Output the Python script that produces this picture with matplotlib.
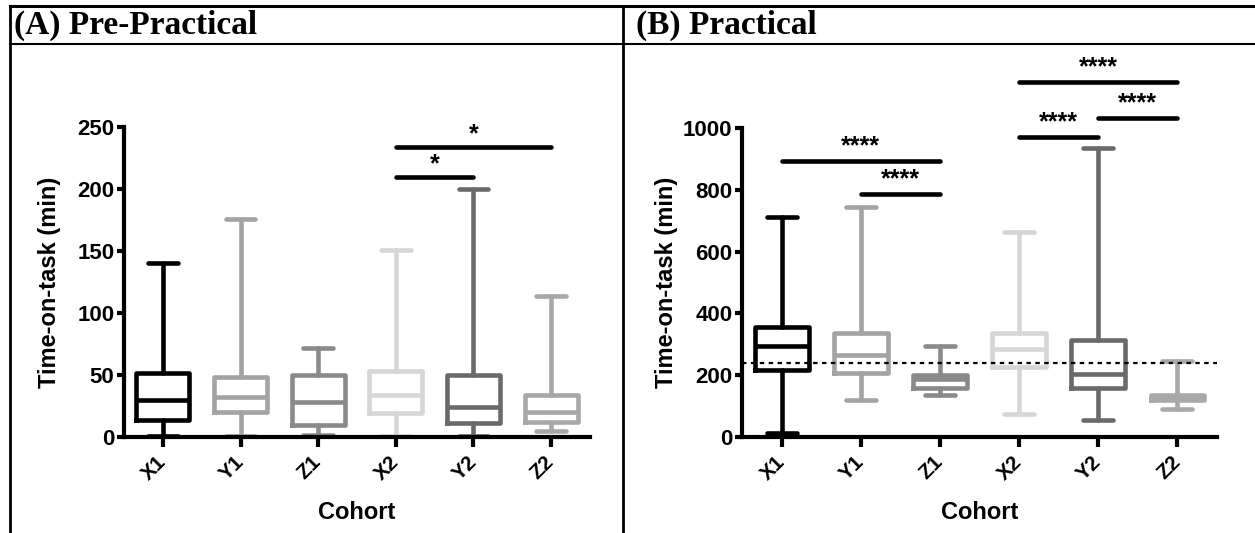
import matplotlib
matplotlib.use("Agg")
import matplotlib.pyplot as plt
from matplotlib.lines import Line2D

plt.rcParams['font.family'] = ['Liberation Sans', 'DejaVu Sans']
plt.rcParams['font.weight'] = 'bold'

# cohorts and box colours
cohorts = ['X1', 'Y1', 'Z1', 'X2', 'Y2', 'Z2']
colors = ['#000000', '#a3a3a3', '#8a8a8a', '#d6d6d6', '#6a6a6a', '#a8a8a8']

# (A) Pre-Practical: min, q1, median, q3, max (min)
a_min = [0.5, 1, 2, 0.5, 0.5, 4.5]
a_q1 = [14, 20, 10, 19, 11, 12]
a_med = [30, 32, 28, 34, 24, 20]
a_q3 = [52, 48, 50, 53, 50, 34]
a_max = [140, 176, 72, 151, 200, 114]
a_sig = [(4, 5, 210, '*'), (4, 6, 234, '*')]

# (B) Practical
b_min = [14, 121, 137, 76, 54, 90]
b_q1 = [216, 208, 160, 227, 157, 119]
b_med = [294, 265, 187, 286, 203, 130]
b_q3 = [355, 335, 200, 335, 314, 137]
b_max = [711, 744, 296, 662, 934, 246]
b_sig = [(1, 3, 894, '****'), (2, 3, 786, '****'), (4, 5, 971, '****'),
         (5, 6, 1032, '****'), (4, 6, 1150, '****')]
b_ref = 240

W, H = 1255, 533
fig = plt.figure(figsize=(W / 100, H / 100), dpi=100)


def px_axes(left, right, top, bottom):
    return fig.add_axes([left / W, (H - bottom) / H, (right - left) / W, (bottom - top) / H])


def draw_panel(ax, mins, q1, med, q3, maxs, sig, ymax, ystep, star_off):
    stats = []
    for i in range(len(cohorts)):
        stats.append(dict(whislo=mins[i], q1=q1[i], med=med[i], q3=q3[i], whishi=maxs[i], label=cohorts[i]))
    bp = ax.bxp(stats, positions=range(1, 7), widths=0.68, capwidths=0.38,
                showfliers=False, patch_artist=False, manage_ticks=False)
    lw = 3.3
    for i, c in enumerate(colors):
        for art in [bp['boxes'][i], bp['medians'][i]]:
            art.set_color(c)
            art.set_linewidth(lw)
        for art in bp['whiskers'][2 * i:2 * i + 2] + bp['caps'][2 * i:2 * i + 2]:
            art.set_color(c)
            art.set_linewidth(lw)
            art.set_solid_capstyle('round')
        bp['boxes'][i].set_solid_joinstyle('round')

    ax.set_xlim(0.5, 6.5)
    ax.set_ylim(0, ymax)
    ax.set_xticks(range(1, 7))
    ax.set_xticklabels(cohorts, rotation=45, ha='right', va='center', rotation_mode='anchor')
    ax.set_yticks(range(0, ymax + 1, ystep))
    for sp in ['top', 'right']:
        ax.spines[sp].set_visible(False)
    for sp in ['left', 'bottom']:
        ax.spines[sp].set_linewidth(3)
    ax.tick_params(axis='x', length=7, width=3, labelsize=15, pad=9)
    ax.tick_params(axis='y', length=5, width=3, labelsize=16, pad=2)
    for lab in ax.get_yticklabels() + ax.get_xticklabels():
        lab.set_fontweight('bold')
    ax.set_xlabel('Cohort', fontsize=17, fontweight='bold', labelpad=12)

    for x1, x2, y, s in sig:
        ax.plot([x1, x2], [y, y], color='black', lw=3.3, solid_capstyle='round', clip_on=False)
        ax.text((x1 + x2) / 2, y + star_off, s, ha='center', va='center',
                fontsize=18, fontweight='bold', clip_on=False)


axA = px_axes(124, 590, 127, 437)
draw_panel(axA, a_min, a_q1, a_med, a_q3, a_max, a_sig, 250, 50, 10)

axB = px_axes(742, 1217, 128, 437)
axB.axhline(b_ref, color='black', lw=1.6, linestyle=(0, (2, 2)), zorder=3)
draw_panel(axB, b_min, b_q1, b_med, b_q3, b_max, b_sig, 1000, 200, 48)

# y labels
fig.text(50 / W, (H - 282) / H, 'Time-on-task (min)', rotation=90, ha='center', va='center',
         fontsize=17, fontweight='bold')
fig.text(667 / W, (H - 282) / H, 'Time-on-task (min)', rotation=90, ha='center', va='center',
         fontsize=17, fontweight='bold')

# table borders and headers
def fig_line(xs, ys, lw):
    fig.add_artist(Line2D([x / W for x in xs], [(H - y) / H for y in ys], color='black', lw=lw))


fig_line([10, W], [6, 6], 2.2)
fig_line([10, W], [43.5, 43.5], 1.5)
fig_line([10, 10], [6, H], 2)
fig_line([623, 623], [6, H], 2)

fig.text(14 / W, (H - 25) / H, '(A) Pre-Practical', family=['Liberation Serif'], fontweight='bold',
         fontsize=24, ha='left', va='center')
fig.text(636 / W, (H - 25) / H, '(B) Practical', family=['Liberation Serif'], fontweight='bold',
         fontsize=24, ha='left', va='center')

fig.savefig('out.png', dpi=100)
